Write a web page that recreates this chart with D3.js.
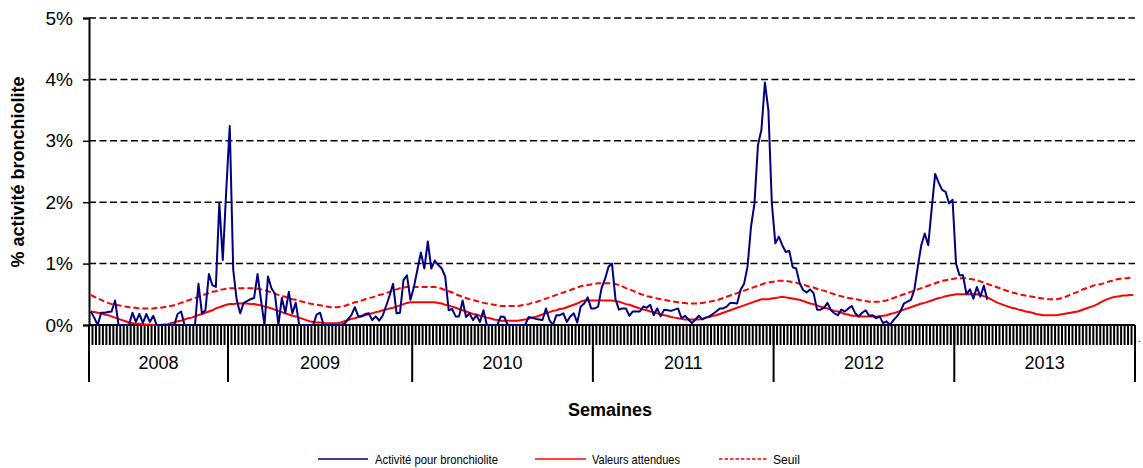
<!DOCTYPE html>
<html>
<head>
<meta charset="utf-8">
<script src="https://cdn.jsdelivr.net/npm/d3@7"></script>
<style>
  body { margin: 0; background: #fff; }
  text { font-family: "Liberation Sans", Arial, sans-serif; fill: #000; }
</style>
</head>
<body>
<div id="chart"></div>
<script>
// weekly values (%), from week 13 of 2008 to the end of 2013
var years = ["2008", "2009", "2010", "2011", "2012", "2013"];
var yearWeeks = [40, 53, 52, 52, 52, 52];
var yTicks = [0, 1, 2, 3, 4, 5];

var activite = [
  0.22,0.12,0,0.2,0.2,0.21,0.22,0.4,0,0,
  0,0,0.2,0.05,0.18,0.03,0.18,0.05,0.15,0,
  0,0,0,0,0,0.18,0.22,0,0,0,
  0,0.67,0.19,0.24,0.83,0.65,0.62,1.99,1.06,2.2,
  3.24,0.9,0.41,0.19,0.36,0.39,0.42,0.44,0.83,0.4,
  0,0.79,0.6,0.51,0,0.44,0.2,0.54,0.19,0.36,
  0,0,0,0,0,0.17,0.2,0,0,0,
  0,0,0,0.02,0.09,0.16,0.29,0.14,0.14,0.18,
  0.19,0.08,0.14,0.07,0.15,0.31,0.48,0.67,0.19,0.2,
  0.73,0.81,0.41,0.62,0.9,1.18,0.92,1.36,0.92,1.05,
  0.98,0.92,0.79,0.24,0.26,0.14,0.14,0.4,0.13,0.19,
  0.08,0.16,0.05,0.24,0,0,0,0,0.14,0.13,
  0,0,0,0,0,0,0.13,0.12,0.1,0.09,
  0.08,0.27,0.08,0,0.16,0.16,0.19,0.05,0.14,0.19,
  0.04,0.3,0.35,0.45,0.27,0.27,0.3,0.6,0.75,0.95,
  1.0,0.42,0.25,0.27,0.27,0.15,0.22,0.22,0.22,0.3,
  0.28,0.33,0.16,0.27,0.14,0.25,0.24,0.23,0.25,0.27,
  0.11,0.15,0.09,0.03,0.09,0.15,0.09,0.12,0.14,0.18,
  0.22,0.27,0.27,0.3,0.36,0.36,0.35,0.57,0.67,0.95,
  1.6,1.98,2.93,3.18,3.95,3.5,1.98,1.33,1.44,1.3,
  1.19,1.21,0.94,0.92,0.68,0.57,0.53,0.58,0.52,0.25,
  0.25,0.28,0.36,0.24,0.19,0.16,0.25,0.22,0.27,0.31,
  0.19,0.14,0.2,0.24,0.15,0.16,0.11,0.14,0.03,0.06,
  0,0.08,0.14,0.22,0.35,0.38,0.41,0.57,0.95,1.3,
  1.49,1.3,1.9,2.46,2.32,2.2,2.17,1.98,2.04,1.0,
  0.81,0.81,0.5,0.58,0.43,0.62,0.46,0.64,0.41
];

var attendues = [
  0.22,0.21,0.20,0.19,0.17,0.16,0.14,
  0.12,0.10,0.08,0.06,0.04,
  0.03,0.02,0.02,0.01,0.01,
  0.01,0.00,0.00,0.00,0.01,0.01,
  0.03,0.04,0.06,0.07,
  0.09,0.11,0.12,0.14,0.16,0.18,0.20,
  0.22,0.24,0.27,0.29,0.31,0.33,
  0.34,0.34,0.35,0.35,0.35,0.35,0.34,0.34,
  0.33,0.32,0.30,0.29,
  0.27,0.25,0.23,0.21,0.19,
  0.17,0.15,0.14,0.12,0.10,0.08,0.06,0.05,
  0.04,0.04,0.03,0.03,0.03,0.03,0.03,0.04,
  0.06,0.08,0.10,0.11,0.13,0.15,
  0.16,0.18,0.19,0.21,0.22,0.24,0.25,0.27,0.28,0.30,
  0.32,0.34,0.36,0.37,0.37,0.37,0.37,0.37,0.37,0.37,0.37,0.36,
  0.35,0.33,0.32,0.30,0.28,0.26,0.24,
  0.22,0.20,0.18,0.17,0.15,0.14,
  0.12,0.11,0.09,0.08,0.07,0.07,0.07,0.07,0.07,0.07,
  0.08,0.09,0.10,0.12,0.13,
  0.15,0.17,0.19,0.21,0.23,0.24,0.26,0.27,
  0.29,0.31,0.33,0.35,0.38,
  0.40,0.40,0.40,0.40,0.40,0.40,0.40,0.40,0.40,0.39,
  0.38,0.36,0.34,0.33,0.31,0.29,0.27,
  0.25,0.24,0.22,0.21,0.19,0.17,0.16,0.15,
  0.13,0.12,0.11,0.10,0.09,0.09,0.09,0.09,0.09,0.10,
  0.12,0.13,0.15,0.16,0.18,
  0.20,0.22,0.24,0.26,0.28,0.30,
  0.32,0.34,0.36,0.38,0.40,0.42,
  0.42,0.42,0.43,0.44,0.45,0.46,
  0.45,0.44,0.43,0.42,0.41,
  0.39,0.37,0.35,0.34,0.32,0.30,0.28,0.27,
  0.25,0.23,0.22,0.20,0.18,0.17,0.15,
  0.15,0.14,0.14,0.14,0.14,0.14,0.14,0.14,
  0.15,0.16,0.18,0.19,0.21,0.23,0.25,0.27,0.29,0.31,0.33,
  0.35,0.36,0.38,0.40,0.42,0.44,0.45,0.47,0.48,
  0.49,0.50,0.50,0.50,0.50,0.50,0.50,0.50,0.49,
  0.47,0.45,0.42,0.39,0.36,0.34,
  0.32,0.30,0.28,0.27,0.25,0.24,0.22,
  0.21,0.20,0.18,0.17,0.16,0.16,0.16,0.16,0.16,
  0.17,0.18,0.19,0.20,0.21,0.22,0.24,
  0.26,0.28,0.30,0.32,0.35,0.38,0.41,
  0.43,0.45,0.46,0.47,0.48,0.48,0.49,0.49
];

var seuil = [
  0.49,0.46,0.43,0.41,0.38,0.36,0.34,
  0.33,0.32,0.31,0.30,0.29,0.28,0.28,0.27,0.27,0.27,
  0.27,0.27,0.28,0.28,0.29,0.30,
  0.31,0.32,0.34,0.36,0.38,0.40,0.42,0.44,
  0.46,0.48,0.50,0.52,0.54,0.55,0.57,0.58,0.59,
  0.60,0.60,0.60,0.60,0.60,0.60,0.60,0.60,
  0.59,0.58,0.57,0.55,0.53,0.51,0.49,
  0.47,0.46,0.44,0.42,0.41,0.39,0.38,0.36,
  0.35,0.34,0.33,0.32,0.31,0.30,0.29,0.29,0.29,0.30,
  0.31,0.33,0.35,0.37,0.38,0.40,0.42,
  0.44,0.45,0.47,0.49,0.50,0.52,0.54,0.56,0.58,
  0.60,0.61,0.62,0.62,0.62,0.62,0.62,0.62,0.62,0.62,0.62,0.61,
  0.59,0.57,0.55,0.53,0.50,0.48,
  0.46,0.44,0.42,0.41,0.39,0.38,
  0.36,0.35,0.34,0.33,0.32,0.31,
  0.31,0.31,0.31,0.31,0.31,0.32,
  0.33,0.34,0.36,0.37,0.39,0.41,
  0.43,0.45,0.47,0.49,0.51,0.53,0.55,0.57,0.59,0.61,
  0.63,0.64,0.65,0.66,0.67,0.68,0.68,0.68,0.68,0.68,0.67,
  0.65,0.63,0.60,0.58,0.56,0.53,0.51,
  0.49,0.47,0.46,0.44,0.43,0.42,0.41,0.40,
  0.39,0.38,0.37,0.36,0.36,0.35,0.35,0.35,0.35,
  0.36,0.37,0.38,0.39,0.40,0.42,
  0.44,0.46,0.48,0.50,0.52,0.54,0.56,0.58,
  0.60,0.62,0.64,0.66,0.68,0.69,0.70,0.71,
  0.72,0.72,0.72,0.71,0.70,
  0.69,0.67,0.66,0.64,0.62,0.61,
  0.59,0.57,0.56,0.54,0.52,0.50,
  0.48,0.47,0.45,0.44,0.43,0.42,0.41,
  0.40,0.39,0.38,0.38,0.38,0.38,0.39,
  0.40,0.42,0.44,0.46,0.48,0.50,0.52,
  0.54,0.56,0.58,0.60,0.62,0.64,0.66,0.68,
  0.70,0.72,0.73,0.74,0.75,0.76,0.76,0.76,0.76,
  0.75,0.74,0.73,0.71,0.69,
  0.67,0.65,0.63,0.61,0.59,0.57,0.55,
  0.53,0.52,0.50,0.49,0.48,0.47,0.46,
  0.45,0.44,0.43,0.42,0.42,0.42,0.42,0.43,
  0.45,0.47,0.50,0.52,0.54,0.57,0.59,
  0.61,0.63,0.65,0.66,0.67,0.69,0.71,
  0.72,0.74,0.75,0.76,0.76,0.77,0.77
];

var svgWidth = 1143;
var svgHeight = 468;
var plot = { left: 89, right: 1135, top: 18, bottom: 325 };

var svg = d3.select("#chart")
  .append("svg")
  .attr("width", svgWidth)
  .attr("height", svgHeight);

var totalWeeks = d3.sum(yearWeeks);

var xScale = d3.scaleLinear()
  .domain([0, totalWeeks])
  .range([plot.left, plot.right]);

var yScale = d3.scaleLinear()
  .domain([0, 5])
  .range([plot.bottom, plot.top]);

// horizontal dashed grid
svg.append("g")
  .selectAll("line")
  .data(yTicks.filter(d => d > 0))
  .enter()
  .append("line")
  .attr("x1", plot.left)
  .attr("x2", plot.right)
  .attr("y1", d => yScale(d))
  .attr("y2", d => yScale(d))
  .attr("stroke", "#000")
  .attr("stroke-width", 1.5)
  .attr("stroke-dasharray", "7,3.5");

// y axis
var leftAxis = d3.axisLeft(yScale)
  .tickValues(yTicks)
  .tickSize(6)
  .tickPadding(10)
  .tickFormat(d => d + "%");

var yAxis = svg.append("g")
  .attr("transform", `translate(${plot.left}, 0)`)
  .call(leftAxis);

yAxis.select(".domain").attr("stroke-width", 2);
yAxis.selectAll(".tick line").attr("stroke-width", 1.5);
yAxis.selectAll("text")
  .attr("font-size", 19)
  .attr("font-family", "Liberation Sans, Arial, sans-serif")
  .attr("fill", "#000");

// weekly ticks under the x axis
var weekIdx = d3.range(0, totalWeeks + 1);
svg.append("g")
  .selectAll("line")
  .data(weekIdx)
  .enter()
  .append("line")
  .attr("x1", d => xScale(d))
  .attr("x2", d => xScale(d))
  .attr("y1", plot.bottom)
  .attr("y2", plot.bottom + 20)
  .attr("stroke", "#000")
  .attr("stroke-width", 2);

// year separators and labels
var bounds = [0];
yearWeeks.forEach(function (w, i) { bounds.push(bounds[i] + w); });

svg.append("g")
  .selectAll("line")
  .data(bounds)
  .enter()
  .append("line")
  .attr("x1", d => xScale(d))
  .attr("x2", d => xScale(d))
  .attr("y1", plot.bottom)
  .attr("y2", 382)
  .attr("stroke", "#000")
  .attr("stroke-width", 2);

svg.append("g")
  .selectAll("text")
  .data(years)
  .enter()
  .append("text")
  .attr("x", (d, i) => xScale((bounds[i] + bounds[i + 1]) / 2))
  .attr("y", 369)
  .attr("text-anchor", "middle")
  .attr("font-size", 18)
  .text(d => d);

// x axis line
svg.append("line")
  .attr("x1", plot.left)
  .attr("x2", plot.right)
  .attr("y1", plot.bottom)
  .attr("y2", plot.bottom)
  .attr("stroke", "#000")
  .attr("stroke-width", 2);

svg.append("text")
  .attr("x", plot.right + 3)
  .attr("y", 342)
  .attr("font-size", 10)
  .text(".");

// series
var line = d3.line()
  .x((d, i) => xScale(i + 0.5))
  .y(d => yScale(d));

svg.append("path")
  .datum(seuil)
  .attr("d", line)
  .attr("fill", "none")
  .attr("stroke", "#ff0000")
  .attr("stroke-width", 2)
  .attr("stroke-dasharray", "6,3");

svg.append("path")
  .datum(attendues)
  .attr("d", line)
  .attr("fill", "none")
  .attr("stroke", "#ff0000")
  .attr("stroke-width", 2);

svg.append("path")
  .datum(activite)
  .attr("d", line)
  .attr("fill", "none")
  .attr("stroke", "#000080")
  .attr("stroke-width", 2)
  .attr("stroke-linejoin", "round");

// axis titles
svg.append("text")
  .attr("transform", "translate(24, 172) rotate(-90)")
  .attr("text-anchor", "middle")
  .attr("font-size", 18)
  .attr("font-weight", "bold")
  .text("% activité bronchiolite");

svg.append("text")
  .attr("x", 610)
  .attr("y", 416)
  .attr("text-anchor", "middle")
  .attr("font-size", 18)
  .attr("font-weight", "bold")
  .text("Semaines");

// legend
var legendItems = [
  { label: "Activité pour bronchiolite", color: "#000080", dash: null, x1: 318, x2: 368, tx: 375, tw: 123 },
  { label: "Valeurs attendues", color: "#ff0000", dash: null, x1: 535, x2: 586, tx: 592, tw: 88 },
  { label: "Seuil", color: "#ff0000", dash: "3.5,2", x1: 719, x2: 767, tx: 773, tw: 27 }
];

var legend = svg.append("g");
legendItems.forEach(function (item) {
  legend.append("line")
    .attr("x1", item.x1)
    .attr("x2", item.x2)
    .attr("y1", 459)
    .attr("y2", 459)
    .attr("stroke", item.color)
    .attr("stroke-width", 1.5)
    .attr("stroke-dasharray", item.dash);
  legend.append("text")
    .attr("x", item.tx)
    .attr("y", 464)
    .attr("font-size", 13)
    .attr("textLength", item.tw)
    .attr("lengthAdjust", "spacingAndGlyphs")
    .text(item.label);
});
</script>
</body>
</html>
